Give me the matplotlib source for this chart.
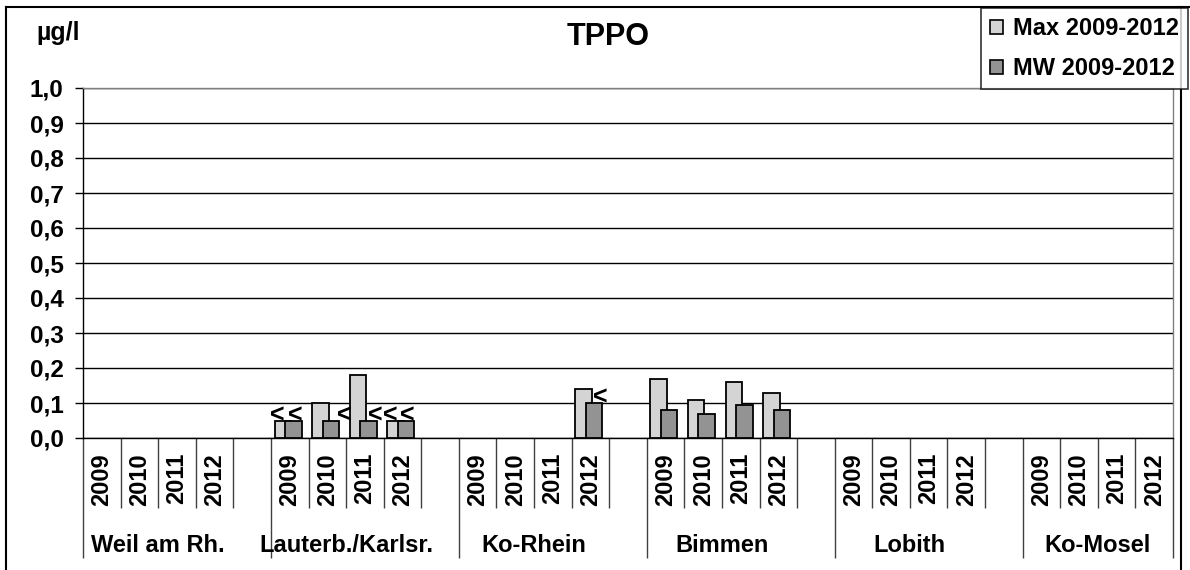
import numpy as np
import matplotlib
matplotlib.use("Agg")
import matplotlib.pyplot as plt
from matplotlib.lines import Line2D
from matplotlib.patches import Patch

plt.rcParams['font.family'] = ['Liberation Sans', 'DejaVu Sans']
plt.rcParams['font.weight'] = 'bold'

# ---------------- data ----------------
stations = ["Weil am Rh.", "Lauterb./Karlsr.", "Ko-Rhein", "Bimmen", "Lobith", "Ko-Mosel"]
years = ["2009", "2010", "2011", "2012"]
nan = np.nan
max_values = {
    "Weil am Rh.":      [nan, nan, nan, nan],
    "Lauterb./Karlsr.": [0.05, 0.10, 0.18, 0.05],
    "Ko-Rhein":         [nan, nan, nan, 0.14],
    "Bimmen":           [0.17, 0.11, 0.16, 0.13],
    "Lobith":           [nan, nan, nan, nan],
    "Ko-Mosel":         [nan, nan, nan, nan],
}
mw_values = {
    "Weil am Rh.":      [nan, nan, nan, nan],
    "Lauterb./Karlsr.": [0.05, 0.05, 0.05, 0.05],
    "Ko-Rhein":         [nan, nan, nan, 0.10],
    "Bimmen":           [0.08, 0.07, 0.095, 0.08],
    "Lobith":           [nan, nan, nan, nan],
    "Ko-Mosel":         [nan, nan, nan, nan],
}
# "<" = below detection limit labels
max_marks = {
    "Lauterb./Karlsr.": ["<", "", "", "<"],
}
mw_marks = {
    "Lauterb./Karlsr.": ["<", "<", "<", "<"],
    "Ko-Rhein":         ["", "", "", "<"],
}
y_ticks = [0.0, 0.1, 0.2, 0.3, 0.4, 0.5, 0.6, 0.7, 0.8, 0.9, 1.0]
series_names = ["Max 2009-2012", "MW 2009-2012"]
title = "TPPO"
unit = "µg/l"

# ---------------- styles ----------------
c_max = "#D4D4D4"
c_mw = "#939393"
W, H = 1190, 570
slots_per_group = 5
bar_w = 0.44
off_max, off_mw = -0.185, 0.095
# horizontal nudges (px) of "<" labels, per series/station
max_mark_dx = {"Lauterb./Karlsr.": [-5, 0, 0, -5.5]}
mw_mark_dx = {"Lauterb./Karlsr.": [2, 13, 7, 1.5], "Ko-Rhein": [0, 0, 0, 6]}

fig = plt.figure(figsize=(W / 100, H / 100), dpi=100)
ax_l, ax_r, ax_t, ax_b = 83, 1173, 88, 438
ax = fig.add_axes([ax_l / W, 1 - ax_b / H, (ax_r - ax_l) / W, (ax_b - ax_t) / H])

n_slots = slots_per_group * len(stations) - 1
xs_all, max_all, mw_all = [], [], []
for s, st in enumerate(stations):
    for j, _ in enumerate(years):
        xs_all.append(s * slots_per_group + j)
        max_all.append(max_values[st][j])
        mw_all.append(mw_values[st][j])
xs_all = np.array(xs_all, dtype=float)

ax.bar(xs_all + off_max, max_all, width=bar_w, color=c_max, edgecolor="black",
       linewidth=1.3, zorder=3, label=series_names[0])
ax.bar(xs_all + off_mw, mw_all, width=bar_w, color=c_mw, edgecolor="black",
       linewidth=1.3, zorder=4, label=series_names[1])

# "<" labels
px2pt = 0.72
for marks, vals, off, dxs in ((max_marks, max_values, off_max, max_mark_dx),
                              (mw_marks, mw_values, off_mw, mw_mark_dx)):
    for st, lab in marks.items():
        s = stations.index(st)
        for j, t in enumerate(lab):
            if not t:
                continue
            x = s * slots_per_group + j + off
            dx = dxs.get(st, [0] * 4)[j]
            ax.annotate(t, xy=(x, vals[st][j]), xytext=(dx * px2pt, -1.5),
                        textcoords="offset points", ha="center", va="baseline",
                        fontsize=18, fontweight="bold", zorder=6,
                        annotation_clip=False)

ax.set_xlim(-0.5, n_slots - 0.5)
ax.set_ylim(0, 1.0)
ax.set_yticks(y_ticks)
ax.set_yticklabels([f"{v:.1f}".replace(".", ",") for v in y_ticks],
                   fontsize=17.5, fontweight="bold")
ax.tick_params(axis="y", length=6, width=1, direction="out", pad=8, colors="black")
ax.yaxis.grid(True, color="black", linewidth=1.0, zorder=0)
ax.set_axisbelow(True)

# category axis: group boundaries (long) and slot boundaries (short)
group_bounds = [s * slots_per_group - 0.5 for s in range(len(stations))] + [n_slots - 0.5]
slot_bounds = [k - 0.5 for k in range(n_slots + 1) if (k - 0.5) not in group_bounds]
ax.set_xticks(group_bounds)
ax.set_xticklabels([])
ax.set_xticks(slot_bounds, minor=True)
ax.tick_params(axis="x", which="major", length=120 * px2pt, width=1, color="#404040")
ax.tick_params(axis="x", which="minor", length=70 * px2pt, width=1, color="#404040")

for s, st in enumerate(stations):
    for j, y in enumerate(years):
        ax.annotate(y, xy=(s * slots_per_group + j, 0), xycoords=("data", "axes fraction"),
                    xytext=(0, -15 * px2pt), textcoords="offset points",
                    rotation=90, ha="center", va="top", fontsize=17, fontweight="bold")
    ax.annotate(st, xy=(s * slots_per_group + 1.5, 0), xycoords=("data", "axes fraction"),
                xytext=(0, -107 * px2pt), textcoords="offset points",
                ha="center", va="center", fontsize=17, fontweight="bold")

for side in ("top", "right"):
    ax.spines[side].set_color("#808080")
    ax.spines[side].set_linewidth(1)
ax.spines["left"].set_color("black")
ax.spines["bottom"].set_color("black")
ax.spines["left"].set_linewidth(1)
ax.spines["bottom"].set_linewidth(1)

# texts
fig.text(608 / W, 1 - 37 / H, title, ha="center", va="center", fontsize=22, fontweight="bold")
fig.text(58 / W, 1 - 33 / H, unit, ha="center", va="center", fontsize=18, fontweight="bold")

# figure border
fig.add_artist(Line2D([5.5 / W, 5.5 / W], [0, 1 - 7 / H], transform=fig.transFigure,
                      color="black", linewidth=1.5))
fig.add_artist(Line2D([5.5 / W, 1], [1 - 7 / H, 1 - 7 / H], transform=fig.transFigure,
                      color="black", linewidth=1.5))
fig.add_artist(Line2D([1181 / W, 1181 / W], [0, 1 - 7 / H], transform=fig.transFigure,
                      color="black", linewidth=1.5))

# legend
handles = [Patch(facecolor=c_max, edgecolor="black", linewidth=1.2),
           Patch(facecolor=c_mw, edgecolor="black", linewidth=1.2)]
leg = fig.legend(handles, series_names, loc="upper right",
                 bbox_to_anchor=(1188 / W, 1 - 8 / H), frameon=True, fancybox=False,
                 prop={"size": 17, "weight": "bold"}, handlelength=0.55, handleheight=0.55,
                 handletextpad=0.4, labelspacing=0.7, borderpad=0.4, borderaxespad=0)
leg.get_frame().set_edgecolor("black")
leg.get_frame().set_linewidth(1.2)

fig.savefig("out.png", dpi=100, facecolor="white")
